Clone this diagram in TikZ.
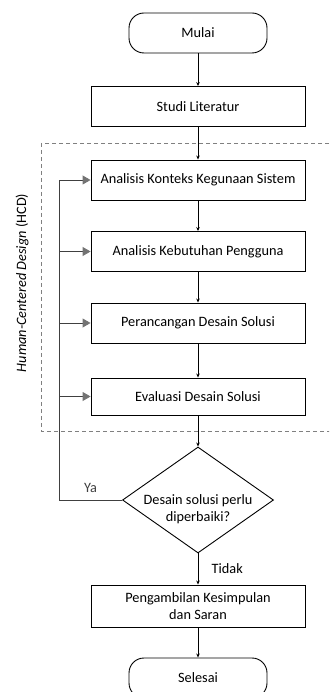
\documentclass[tikz,border=0pt]{standalone}
\usepackage{fontspec}
\setmainfont{Carlito}
\usetikzlibrary{shapes.geometric,arrows.meta,calc}

\begin{document}
\begin{tikzpicture}[x=1pt,y=-1pt,
    every node/.style={font=\fontsize{14.3}{17}\selectfont},
    proses/.style={draw,line width=0.9pt,minimum width=214pt,minimum height=40pt,inner sep=2pt,align=center},
    terminal/.style={draw,line width=0.9pt,rounded corners=15pt,minimum width=138pt,minimum height=40pt},
    keputusan/.style={draw,diamond,line width=0.9pt,minimum width=151pt,minimum height=106pt,inner sep=0pt},
    alur/.style={line width=0.8pt,-{Stealth[length=4pt,width=3.5pt]}},
    balik/.style={draw=black!75,line width=0.9pt,-{Triangle[length=8pt,width=9pt,color=black!55,fill=black!55]}}]
    \useasboundingbox (0,0) rectangle (329,692);
    \clip (0,0) rectangle (329,692);

    \draw[black!50,line width=0.7pt,dash pattern=on 4pt off 3pt] (41,143) rectangle (345,431);
    \node[rotate=90] (hcd) at (22,283) {\textit{Human-Centered Design} (HCD)};

    \node[terminal] (mulai) at (198,33) {Mulai};
    \node[proses] (studi) at (198,106.5) {Studi Literatur};
    \node[proses] (konteks) at (198,180) {Analisis Konteks Kegunaan Sistem};
    \node[proses] (kebutuhan) at (198,251.5) {Analisis Kebutuhan Pengguna};
    \node[proses] (desain) at (198,323) {Perancangan Desain Solusi};
    \node[proses,minimum height=37pt] (evaluasi) at (198,396.5) {Evaluasi Desain Solusi};
    \node[keputusan] (cek) at (198,500) {};
    \node[align=center] (cektext) at ($(cek)+(0,9)$) {Desain solusi perlu\\diperbaiki?};
    \node[proses,minimum height=42pt] (simpulan) at (198,606) {Pengambilan Kesimpulan\\dan Saran};
    \node[terminal] (selesai) at (198,678) {Selesai};
    \coordinate (kiri) at (59,500);

    \draw[alur] (mulai) -- (studi);
    \draw[alur] (studi) -- (konteks);
    \draw[alur] (konteks) -- (kebutuhan);
    \draw[alur] (kebutuhan) -- (desain);
    \draw[alur] (desain) -- (evaluasi);
    \draw[alur] (evaluasi) -- (cek);
    \draw[alur] (cek) -- node[right=10pt] (tidak) {Tidak} (simpulan);
    \draw[alur] (simpulan) -- (selesai);

    \draw[black!75,line width=0.9pt] (cek.west) -- node[above=4pt] (ya) {Ya} (kiri) -- (kiri |- konteks.west);
    \foreach \n in {konteks,kebutuhan,desain,evaluasi}
        \draw[balik] (kiri |- \n.west) -- (\n.west);
\end{tikzpicture}
\end{document}
